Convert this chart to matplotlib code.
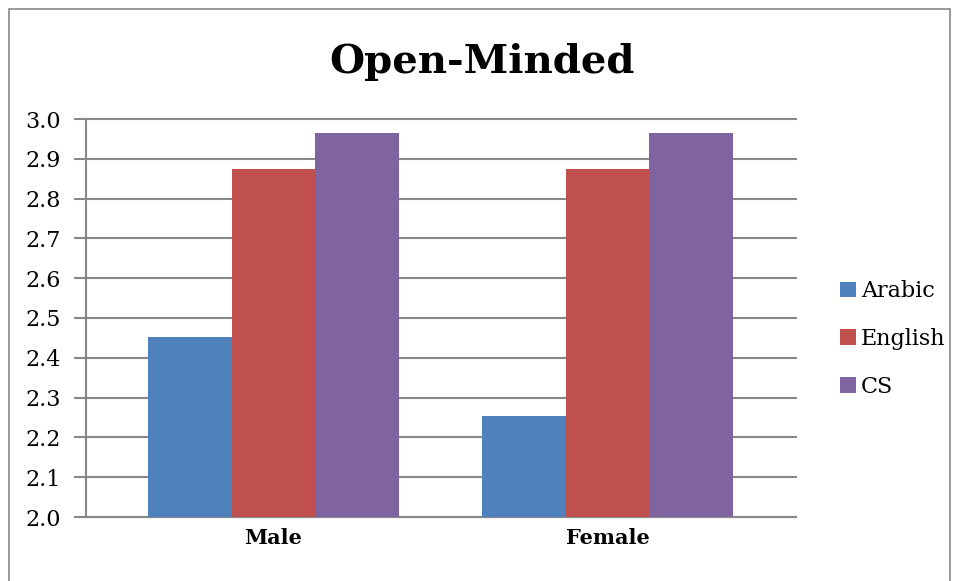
import numpy as np
import matplotlib
matplotlib.use("Agg")
import matplotlib.pyplot as plt
from matplotlib.patches import Rectangle

plt.rcParams["font.family"] = ["DejaVu Serif"]

# data
groups = ["Male", "Female"]
series = ["Arabic", "English", "CS"]
arabic = [2.453, 2.254]
english = [2.874, 2.874]
cs = [2.965, 2.965]
colors = ["#4F81BD", "#C0504D", "#8064A2"]
yticks = [2.0, 2.1, 2.2, 2.3, 2.4, 2.5, 2.6, 2.7, 2.8, 2.9, 3.0]

W, H = 957, 581
fig = plt.figure(figsize=(W / 100, H / 100), dpi=100)
# axes box in pixels: x 86..796, y 119..517
ax = fig.add_axes([86 / W, 1 - 517 / H, (796 - 86) / W, (517 - 119) / H])

x = np.arange(len(groups))
bw = 0.25
for k, (name, vals) in enumerate(zip(series, [arabic, english, cs])):
    ax.bar(x + (k - 1) * bw, np.array(vals) - 2.0, bw, bottom=2.0,
           color=colors[k], label=name, zorder=3)

ax.set_ylim(2.0, 3.0)
ax.set_xlim(-0.561, 1.564)
ax.set_yticks(yticks)
ax.set_yticklabels(["%.1f" % v for v in yticks], fontsize=16)
ax.set_xticks(x)
ax.set_xticklabels(groups, fontsize=15, fontweight="bold")
ax.tick_params(axis="x", length=0, pad=8)
ax.tick_params(axis="y", length=9, width=1.5, color="#888888", pad=9)
ax.yaxis.grid(True, color="#888888", linewidth=1.5, zorder=0)
for gl in ax.get_ygridlines():
    gl.set_clip_on(False)
ax.set_axisbelow(True)
for s in ["top", "right"]:
    ax.spines[s].set_visible(False)
for s in ["left", "bottom"]:
    ax.spines[s].set_color("#888888")
    ax.spines[s].set_linewidth(1.5)

fig.text(482 / W, 1 - 62 / H, "Open-Minded", ha="center", va="center",
         fontsize=29, fontweight="bold")

ax.legend(loc="center left", bbox_to_anchor=(820 / W, 1 - 339 / H),
          bbox_transform=fig.transFigure, frameon=False, fontsize=16,
          handlelength=0.7, handleheight=0.7, handletextpad=0.25,
          labelspacing=1.15)

# outer chart border
fig.patches.append(Rectangle((9 / W, -0.05), (950 - 9) / W, 1 - 9 / H + 0.05,
                             transform=fig.transFigure, fill=False,
                             edgecolor="#888888", linewidth=1.2))

fig.savefig("out.png", dpi=100)
